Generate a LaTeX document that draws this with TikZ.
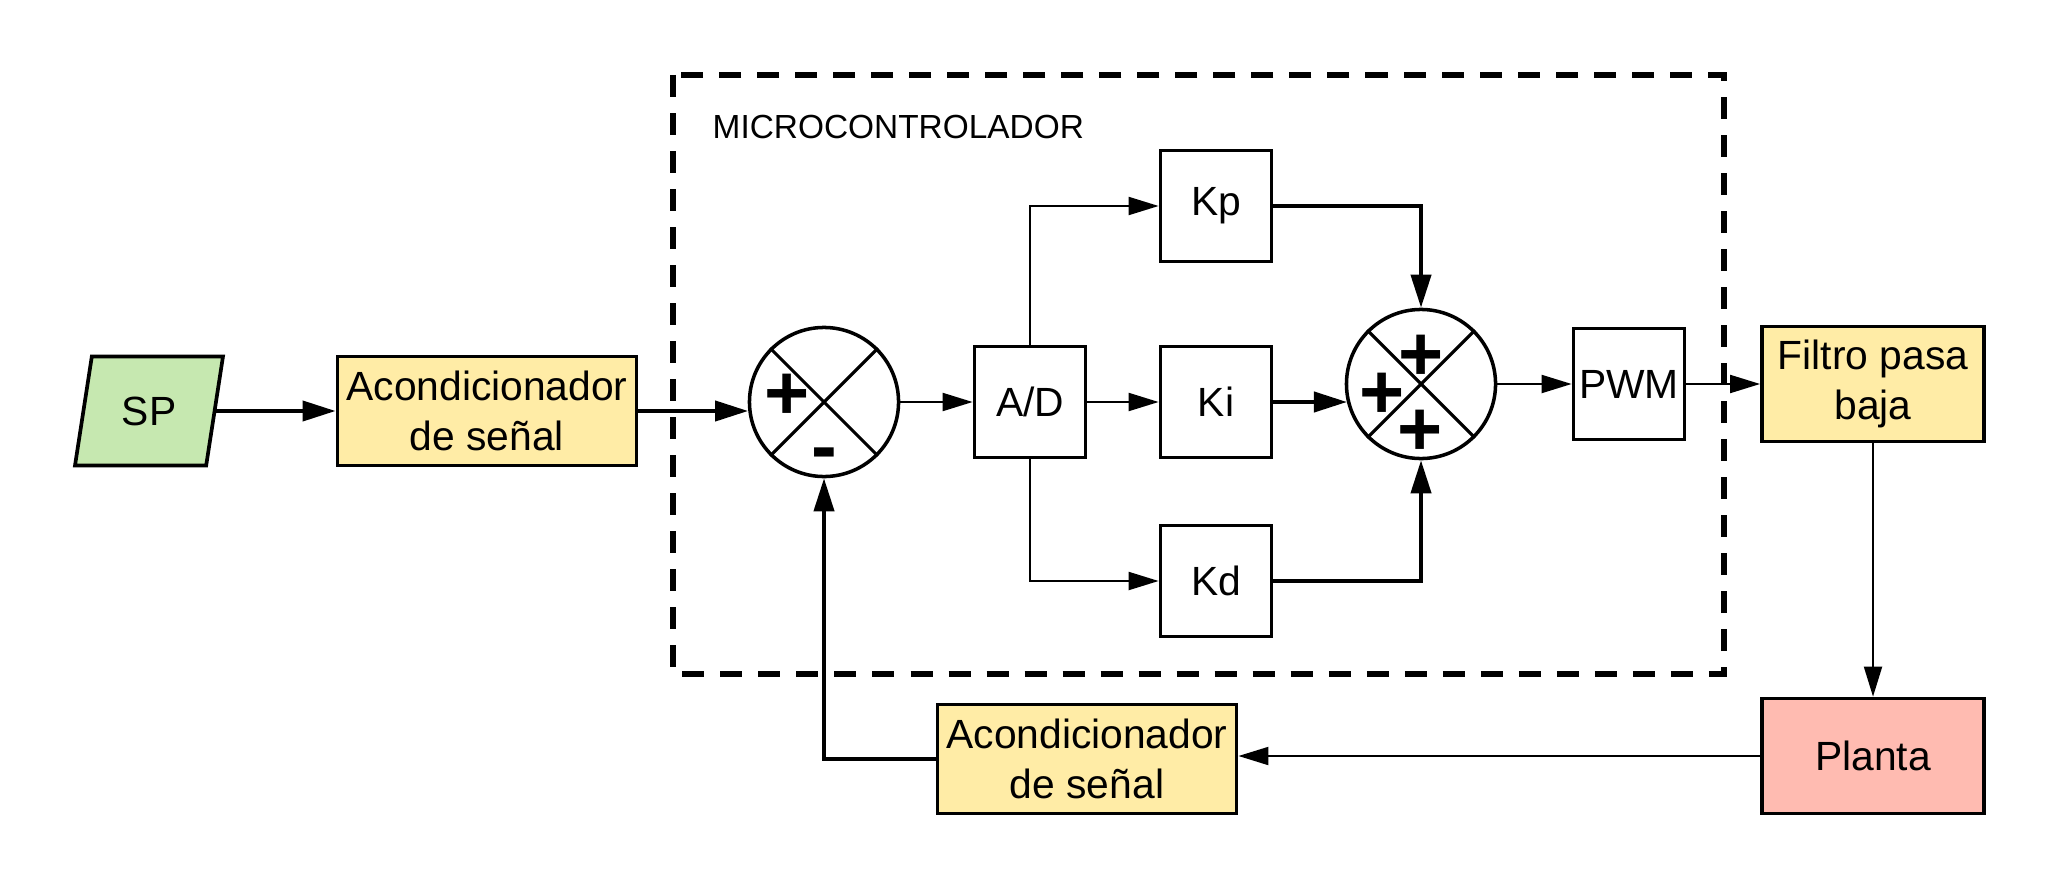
\documentclass[tikz,border=0pt]{standalone}
\usepackage{fontspec}
\setmainfont{Liberation Sans}
\usetikzlibrary{arrows.meta, positioning, shapes.geometric}
\definecolor{spgreen}{RGB}{198,232,176}
\definecolor{condyellow}{RGB}{255,236,166}
\definecolor{plantred}{RGB}{255,187,177}
\tikzset{
    blk/.style={draw, line width=1.05pt, minimum width=1.11cm, minimum height=1.11cm,
        inner sep=0pt, align=center, font=\fontsize{11.6}{14}\selectfont},
    cond/.style={blk, fill=condyellow, minimum width=2.99cm, minimum height=1.09cm},
    bigblk/.style={blk, minimum width=2.22cm, minimum height=1.15cm},
    spbox/.style={blk, trapezium, trapezium left angle=74.5, trapezium right angle=105.5,
        trapezium stretches=true, fill=spgreen, minimum width=1.48cm, minimum height=1.09cm},
    sumnode/.style={draw, circle, line width=1pt, minimum size=1.49cm, inner sep=0pt},
    sgn/.style={inner sep=0pt, font=\fontsize{22}{22}\selectfont\bfseries},
    thinflow/.style={line width=0.57pt, -{Triangle[length=0.3cm, width=0.18cm]}},
    thickflow/.style={line width=1.14pt, -{Triangle[length=0.33cm, width=0.2cm]}}
}
\begin{document}
\begin{tikzpicture}[x=0.01cm, y=-0.01cm]
    \useasboundingbox (0,0) rectangle (2061,891);
    % bloques
    \node[spbox] (sp) at (149,411) {SP};
    \node[cond] (ac1) at (487,411) {Acondicionador\\de señal};
    \node[sumnode] (s1) at (824,402) {};
    \node[blk] (ad) at (1030,402) {A/D};
    \node[blk] (kp) at (1216,206) {Kp};
    \node[blk] (ki) at (1216,402) {Ki};
    \node[blk] (kd) at (1216,581) {Kd};
    \node[sumnode] (s2) at (1421,384) {};
    \node[blk] (pwm) at (1629,384) {PWM};
    \node[bigblk, fill=condyellow] (fil) at (1873,384) {Filtro pasa\\baja};
    \node[bigblk, fill=plantred] (pla) at (1873,756) {Planta};
    \node[cond] (ac2) at (1087,759) {Acondicionador\\de señal};
    % sumadores
    \foreach \s in {s1,s2}{
        \draw[line width=0.9pt] (\s.45) -- (\s.225);
        \draw[line width=0.9pt] (\s.135) -- (\s.315);
    }
    \node[sgn] (p1) at (787,397) {+};
    \node[sgn] (m1) at (824,460) {-};
    \node[sgn] (p2) at (1421,358) {+};
    \node[sgn] (p3) at (1382,396) {+};
    \node[sgn] (p4) at (1420,433) {+};
    % flechas
    \draw[thickflow] (sp.east) -- (ac1.west);
    \draw[thickflow] (ac1.east) -- (ac1.east -| s1.186.8);
    \draw[thinflow] (s1.east) -- (ad.west);
    \draw[thinflow] (ad.north) |- (kp.west);
    \draw[thinflow] (ad.east) -- (ki.west);
    \draw[thinflow] (ad.south) |- (kd.west);
    \draw[thickflow] (kp.east) -| (s2.north);
    \draw[thickflow] (ki.east) -- (ki.east -| s2.194.5);
    \draw[thickflow] (kd.east) -| (s2.south);
    \draw[thinflow] (s2.east) -- (pwm.west);
    \draw[thinflow] (pwm.east) -- (fil.west);
    \draw[thinflow] (fil.south) -- (pla.north);
    \draw[thinflow] (pla.west) -- (pla.west -| ac2.east);
    \draw[thickflow] (ac2.west) -| (s1.south);
    % microcontrolador
    \draw[line width=1.9pt, dash pattern=on 0.22cm off 0.16cm] (673,75) rectangle (1724,674);
    \node[anchor=west, inner sep=0pt, font=\fontsize{9.5}{11}\selectfont] (mcu) at (712,127) {MICROCONTROLADOR};
\end{tikzpicture}
\end{document}
